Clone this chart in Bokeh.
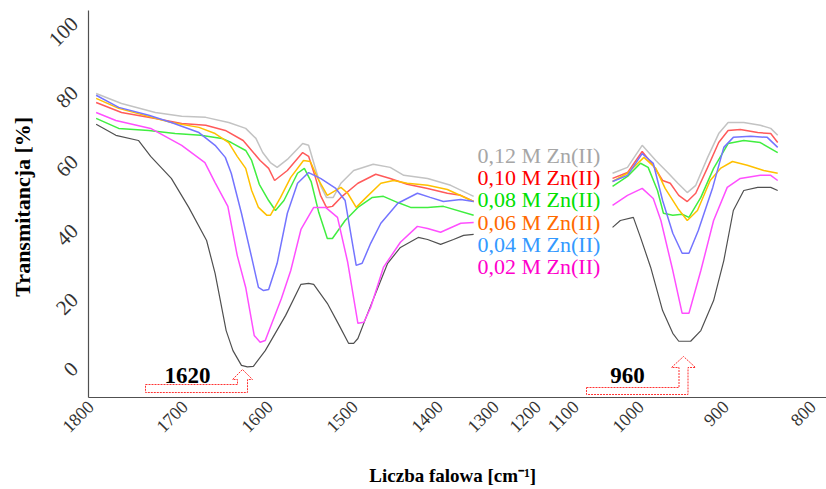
import numpy as np
from bokeh.plotting import figure
from bokeh.models import Range1d, FixedTicker
from bokeh.embed import file_html
from bokeh.resources import INLINE
from bokeh.core.properties import value

# ---------------- data ----------------
TICK_WN = [1800, 1700, 1600, 1500, 1400, 1300, 1200, 1100, 1000, 900, 800]
TICK_LABELS = ["1800", "1700", "1600", "1500", "1400", "1300", "1200", "1100", "1000", "900", "800"]
Y_TICKS = [0, 20, 40, 60, 80, 100]
SERIES_NAMES = ["0,12 M Zn(II)", "0,10 M Zn(II)", "0,08 M Zn(II)",
                "0,06 M Zn(II)", "0,04 M Zn(II)", "0,02 M Zn(II)"]
ANNOT_TEXT = ["1620", "960"]

# 0,12 M
WN_L_012 = [1794, 1767, 1731, 1703, 1675, 1648, 1628, 1616, 1608, 1599, 1591, 1579, 1561, 1554, 1546, 1540, 1533, 1525, 1516, 1501, 1478, 1458, 1442, 1414, 1380, 1339]
T_L_012 = [78.8, 75.9, 73.3, 72.2, 71.9, 70.4, 68.7, 65.8, 61.7, 58.8, 57.4, 59.7, 64.3, 63.8, 57.1, 52.2, 48.7, 48.7, 52.8, 56.5, 58.3, 57.4, 55.1, 54.2, 52.2, 49.0]
WN_R_012 = [1043, 1020, 998, 982, 968, 956, 945, 935, 921, 908, 897, 879, 860, 848, 840]
T_R_012 = [55.7, 57.4, 63.8, 59.4, 55.9, 52.8, 50.1, 52.2, 60.3, 67.2, 70.4, 70.4, 69.6, 68.7, 66.7]

# 0,10 M
WN_L_010 = [1794, 1767, 1731, 1703, 1675, 1652, 1631, 1621, 1611, 1601, 1594, 1579, 1561, 1554, 1546, 1540, 1533, 1526, 1516, 1496, 1475, 1458, 1438, 1414, 1386, 1362, 1339]
T_L_010 = [76.2, 73.3, 71.6, 70.1, 69.6, 68.1, 65.2, 62.3, 59.4, 57.1, 53.6, 56.5, 61.7, 60.6, 54.5, 49.3, 45.8, 46.1, 48.7, 52.8, 55.4, 54.2, 52.5, 51.3, 49.9, 49.3, 47.5]
WN_R_010 = [1043, 1020, 998, 985, 974, 965, 955, 945, 935, 921, 908, 897, 883, 863, 848, 840]
T_R_010 = [54.2, 55.9, 62.0, 58.0, 53.6, 52.8, 49.3, 47.5, 49.9, 57.4, 64.6, 68.1, 68.4, 67.5, 67.2, 64.6]

# 0,08 M
WN_L_008 = [1794, 1770, 1738, 1710, 1681, 1656, 1645, 1628, 1621, 1612, 1601, 1593, 1583, 1567, 1559, 1551, 1542, 1532, 1526, 1511, 1496, 1479, 1466, 1449, 1434, 1414, 1393, 1339]
T_L_008 = [71.6, 68.7, 68.1, 67.2, 66.7, 65.8, 64.6, 62.3, 59.4, 52.5, 47.8, 44.9, 47.8, 55.7, 57.1, 53.3, 44.3, 36.8, 36.8, 42.0, 45.8, 48.7, 49.0, 47.2, 45.8, 45.8, 46.1, 43.5]
WN_R_008 = [1043, 1020, 1000, 991, 980, 973, 962, 951, 943, 929, 914, 897, 879, 860, 840]
T_R_008 = [51.9, 54.8, 58.6, 57.4, 50.7, 44.1, 43.5, 43.8, 42.9, 48.7, 57.1, 64.3, 65.2, 64.6, 61.7]

# 0,06 M
WN_L_006 = [1794, 1770, 1714, 1683, 1664, 1648, 1638, 1628, 1621, 1613, 1603, 1599, 1587, 1575, 1560, 1552, 1542, 1532, 1516, 1508, 1498, 1485, 1469, 1454, 1438, 1414, 1386, 1339]
T_L_006 = [77.4, 74.5, 70.4, 69.0, 67.2, 64.6, 60.6, 57.1, 50.7, 45.8, 43.5, 43.5, 48.7, 54.5, 59.4, 59.1, 53.6, 49.3, 51.6, 49.9, 45.8, 49.0, 52.8, 53.6, 52.8, 52.2, 51.0, 47.5]
WN_R_006 = [1043, 1020, 996, 982, 971, 956, 945, 933, 918, 906, 892, 875, 856, 840]
T_R_006 = [53.3, 55.7, 60.3, 57.1, 51.3, 45.5, 42.0, 44.9, 53.6, 57.1, 59.1, 58.0, 56.5, 55.7]

# 0,04 M
WN_L_004 = [1794, 1770, 1738, 1714, 1683, 1664, 1652, 1645, 1633, 1621, 1613, 1607, 1601, 1591, 1579, 1567, 1554, 1540, 1522, 1511, 1505, 1498, 1491, 1481, 1469, 1449, 1426, 1411, 1393, 1362, 1339]
T_L_004 = [78.3, 74.8, 72.5, 70.4, 67.5, 63.8, 60.3, 55.7, 44.1, 31.3, 22.6, 21.7, 22.0, 29.6, 44.1, 52.8, 55.9, 54.2, 51.3, 47.8, 39.1, 29.0, 29.6, 35.4, 41.2, 47.0, 49.9, 48.7, 47.5, 48.1, 47.5]
WN_R_004 = [1043, 1020, 998, 985, 974, 962, 951, 943, 932, 915, 902, 891, 871, 852, 840]
T_R_004 = [53.3, 55.1, 61.4, 58.6, 47.8, 38.3, 32.5, 32.5, 39.1, 51.6, 63.2, 66.1, 66.4, 66.1, 63.2]

# 0,02 M
WN_L_002 = [1794, 1773, 1736, 1703, 1676, 1664, 1649, 1638, 1628, 1618, 1611, 1605, 1586, 1575, 1563, 1548, 1534, 1520, 1508, 1496, 1489, 1481, 1466, 1446, 1426, 1414, 1398, 1362, 1339]
T_L_002 = [73.3, 71.0, 68.7, 63.8, 58.8, 53.0, 46.1, 31.9, 22.6, 8.7, 6.7, 7.2, 19.4, 27.5, 39.4, 45.8, 45.8, 42.9, 29.9, 12.2, 12.5, 16.8, 28.4, 35.7, 40.3, 39.7, 38.6, 41.2, 41.4]
WN_R_002 = [1043, 1020, 998, 985, 976, 962, 951, 943, 929, 914, 898, 883, 860, 848, 840]
T_R_002 = [46.4, 49.3, 51.3, 48.4, 42.0, 27.5, 15.1, 15.1, 27.5, 42.0, 51.6, 54.2, 55.1, 55.1, 53.6]

# reference sample (no Zn)
WN_L_REF = [1794, 1773, 1749, 1736, 1714, 1695, 1674, 1664, 1651, 1643, 1633, 1626, 1619, 1605, 1581, 1563, 1554, 1548, 1532, 1518, 1507, 1501, 1496, 1485, 1461, 1446, 1425, 1414, 1398, 1375, 1357, 1339]
T_L_REF = [69.9, 66.7, 65.2, 60.6, 54.2, 45.8, 36.2, 26.7, 10.1, 4.3, 0.0, -0.4, -0.3, 4.3, 14.5, 23.5, 23.8, 23.5, 18.0, 11.6, 6.4, 6.4, 7.8, 14.8, 29.6, 34.2, 37.1, 36.5, 35.1, 36.5, 37.7, 38.0]
WN_R_REF = [1043, 1031, 1011, 1000, 988, 974, 962, 955, 941, 929, 914, 902, 891, 879, 863, 848, 840]
T_R_REF = [40.0, 42.0, 42.9, 37.1, 28.4, 15.9, 9.3, 7.0, 7.0, 10.1, 18.8, 30.4, 44.9, 50.7, 51.6, 51.6, 50.7]

# ---------------- layout / styling ----------------
W, H = 826, 489
FRAME_L, FRAME_T, FRAME_B = 88, 10, 397
# the source figure is a composite with an uneven wavenumber axis:
AXIS_POS = [90, 184, 269, 354, 439, 495, 537, 575, 640, 725, 812]
PX_PER_UNIT = 3.45
Y_AT_FRAME_BOTTOM = -9.3
Y_TOP = Y_AT_FRAME_BOTTOM + (FRAME_B - FRAME_T) / PX_PER_UNIT


def pos(wn):
    return np.interp(-np.asarray(wn, dtype=float), -np.asarray(TICK_WN, dtype=float),
                     np.asarray(AXIS_POS, dtype=float))


SERIF = "Liberation Serif"
LINE_COLORS = ["#C3C3C3", "#FF5A5A", "#40EE40", "#FFC000", "#7474FF", "#FF4FFF"]
TEXT_COLORS = ["#A6A6A6", "#FF0000", "#00E000", "#FF6A00", "#3399FF", "#FF00CC"]

p = figure(width=W, height=H, output_backend="svg", toolbar_location=None,
           x_range=Range1d(FRAME_L, W), y_range=Range1d(Y_AT_FRAME_BOTTOM, Y_TOP),
           min_border_left=FRAME_L, min_border_right=0, min_border_top=FRAME_T,
           min_border_bottom=H - FRAME_B)
p.outline_line_color = None
p.grid.visible = False
p.background_fill_color = "white"
p.border_fill_color = "white"

series = [
    (WN_L_012, T_L_012, WN_R_012, T_R_012),
    (WN_L_010, T_L_010, WN_R_010, T_R_010),
    (WN_L_008, T_L_008, WN_R_008, T_R_008),
    (WN_L_006, T_L_006, WN_R_006, T_R_006),
    (WN_L_004, T_L_004, WN_R_004, T_R_004),
    (WN_L_002, T_L_002, WN_R_002, T_R_002),
]
p.line(pos(WN_L_REF), T_L_REF, line_color="#505050", line_width=1.2)
p.line(pos(WN_R_REF), T_R_REF, line_color="#505050", line_width=1.2)
for (wl, tl, wr, tr), c in zip(series, LINE_COLORS):
    p.line(pos(wl), tl, line_color=c, line_width=1.5)
    p.line(pos(wr), tr, line_color=c, line_width=1.5)


def ypx(y):
    return Y_AT_FRAME_BOTTOM + (FRAME_B - y) / PX_PER_UNIT


# legend as coloured text
LEG_X = 477
LEG_Y0 = ypx(155)
LEG_STEP = 22.2 / PX_PER_UNIT
for i, (name, c) in enumerate(zip(SERIES_NAMES, TEXT_COLORS)):
    p.text(x=[LEG_X], y=[LEG_Y0 - i * LEG_STEP], text=[name], text_color=c,
           text_font=value(SERIF), text_font_size="22px",
           text_align="left", text_baseline="middle")

# peak annotations
ann = [  # text centre, arrow tip, base, left end, band, head h, head w, shaft w
    dict(tx=187, ty=375, ax=242, ay=369, base=392, left=145, band=8, hh=10, hw=10, sw=10),
    dict(tx=627, ty=375, ax=683, ay=356, base=394, left=586, band=7, hh=11, hw=12, sw=9),
]
for a, txt in zip(ann, ANNOT_TEXT):
    p.text(x=[a["tx"]], y=[ypx(a["ty"])], text=[txt], text_color="black",
           text_font=value(SERIF), text_font_size="23px", text_font_style="bold",
           text_align="center", text_baseline="middle")
    xs = [a["left"], a["ax"] - a["sw"] / 2, a["ax"] - a["sw"] / 2, a["ax"] - a["hw"], a["ax"],
          a["ax"] + a["hw"], a["ax"] + a["sw"] / 2, a["ax"] + a["sw"] / 2, a["left"]]
    ys = [a["base"] - a["band"], a["base"] - a["band"], a["ay"] + a["hh"], a["ay"] + a["hh"], a["ay"],
          a["ay"] + a["hh"], a["ay"] + a["hh"], a["base"], a["base"]]
    p.patch(xs, [ypx(v) for v in ys], fill_alpha=0, line_color="#FF3333",
            line_dash="2 1", line_width=1)

# axes
ticks = [float(v) for v in pos(TICK_WN)]
p.xaxis.ticker = FixedTicker(ticks=ticks)
p.xaxis.major_label_overrides = {t: l for t, l in zip(ticks, TICK_LABELS)}
p.yaxis.ticker = FixedTicker(ticks=Y_TICKS)
for ax in (p.xaxis[0], p.yaxis[0]):
    ax.major_tick_line_color = None
    ax.minor_tick_line_color = None
    ax.major_tick_out = 0
    ax.major_tick_in = 0
    ax.axis_line_color = "#505050"
    ax.axis_line_width = 1.2
    ax.major_label_orientation = np.pi / 4
    ax.major_label_text_font = SERIF
    ax.major_label_text_color = "#333333"
    ax.axis_label_text_font = SERIF
    ax.axis_label_text_font_style = "bold"
    ax.axis_label_text_color = "black"
p.xaxis.major_label_text_font_size = "18px"
p.yaxis.major_label_text_font_size = "21px"
p.xaxis.major_label_standoff = 6
p.yaxis.major_label_standoff = 14

p.yaxis.axis_label = "Transmitancja  [%]"
p.yaxis.axis_label_text_font_size = "22px"
p.yaxis.axis_label_standoff = 4
p.xaxis.axis_label = "Liczba  falowa  [cm\u207b\u00b9]"
p.xaxis.axis_label_text_font_size = "19px"
p.xaxis.axis_label_standoff = 24

open("out.html", "w").write(file_html(p, INLINE))
